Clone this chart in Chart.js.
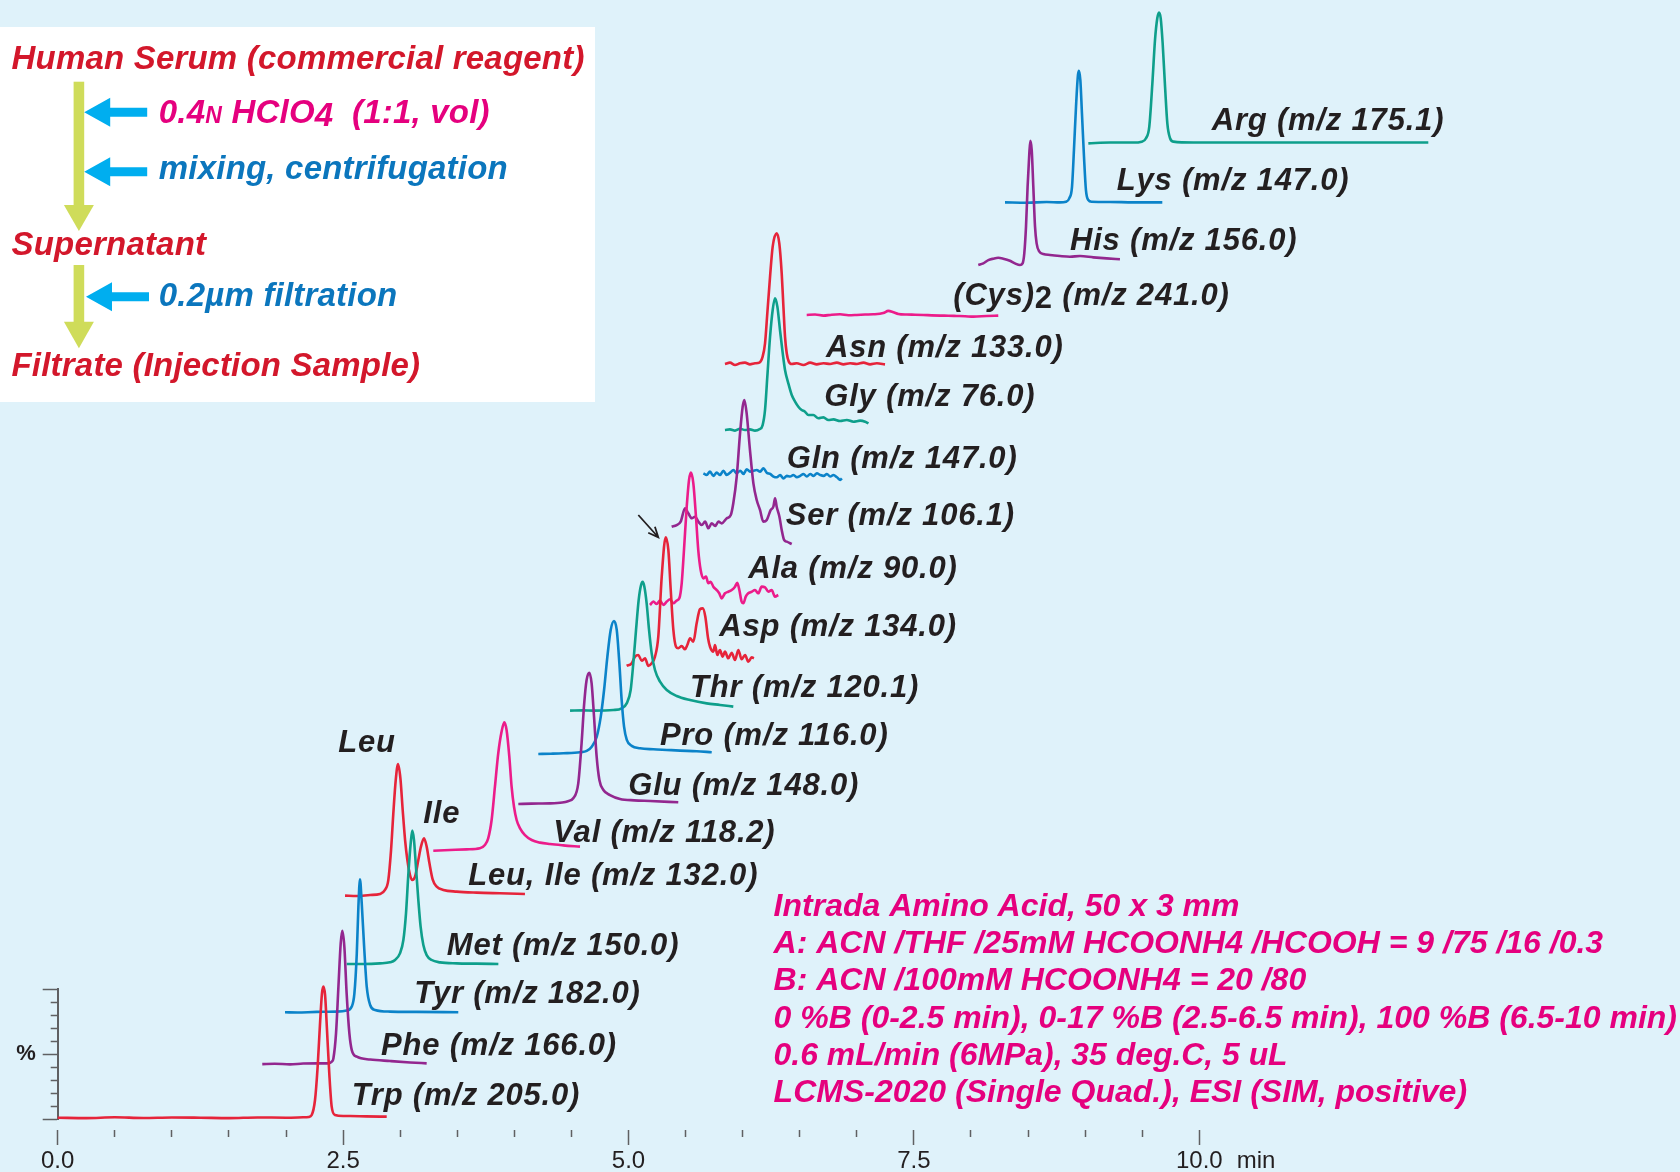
<!DOCTYPE html>
<html lang="en">
<head>
<meta charset="utf-8">
<title>SIM chromatograms of underivatized amino acids in human serum</title>
<script src="https://cdn.jsdelivr.net/npm/chart.js@4.4.1/dist/chart.umd.min.js"></script>
<style>
  html, body { margin: 0; padding: 0; background: #dff2fa; }
  canvas { display: block; }
</style>
</head>
<body>
<canvas id="chrom" width="1680" height="1172"></canvas>
<script>
// ---------- axes ----------
const timeTicks = [0, 0.5, 1, 1.5, 2, 2.5, 3, 3.5, 4, 4.5, 5, 5.5, 6, 6.5, 7, 7.5, 8, 8.5, 9, 9.5, 10];
const timeLabelValues = [0, 2.5, 5, 7.5, 10];
const timeLabels = ['0.0', '2.5', '5.0', '7.5', '10.0'];
const pctTicks = [0, 10, 20, 30, 40, 50, 60, 70, 80, 90, 100];
const pctLongTicks = [0, 50, 100];

// ---------- chromatograms ----------
// each trace: baseline offset (%) and [retention time (min), signal above baseline (%)]
const trpBase = 1.0;
const trp = [[0,0],[0.25,-0.3],[0.5,0.3],[0.75,-0.2],[1.0,0.2],[1.25,0],[1.5,-0.3],[1.75,0.2],[2.0,0],[2.15,0.3],[2.2,0.6],[2.225,2.1],[2.254,13.6],[2.277,39.2],[2.298,72.6],[2.315,95.6],[2.327,100.8],[2.342,94.4],[2.359,67.4],[2.379,34.1],[2.4,8.5],[2.429,2.1],[2.5,1.3],[2.561,1.3],[2.7,1.0],[2.882,0.8]];

const pheBase = 42.5;
const phe = [[1.792,-0.3],[1.9,0],[2.035,-0.5],[2.15,0.2],[2.269,0.3],[2.371,0.3],[2.4,1.5],[2.415,4.1],[2.438,23.3],[2.459,59.2],[2.479,92.6],[2.493,102.3],[2.511,90.0],[2.531,54.1],[2.555,23.3],[2.576,10.5],[2.62,5.4],[2.737,3.3],[2.911,2.1],[3.087,1.0],[3.232,0.3]];

const tyrBase = 82.1;
const tyr = [[1.991,0],[2.1,-0.2],[2.269,0.3],[2.444,0.5],[2.532,1.3],[2.576,4.4],[2.599,14.6],[2.62,45.4],[2.634,81.3],[2.648,102.3],[2.663,84.1],[2.684,50.8],[2.707,19.7],[2.737,5.6],[2.78,1.8],[2.911,0.5],[3.144,0.3],[3.509,0]];

const metBase = 119.2;
const met = [[2.532,0],[2.677,0],[2.823,0.5],[2.91,1.3],[2.955,3.1],[2.998,8.2],[3.028,18.5],[3.051,39.0],[3.072,69.7],[3.092,92.8],[3.106,102.6],[3.121,95.4],[3.138,74.9],[3.159,49.2],[3.179,28.7],[3.203,14.6],[3.232,6.9],[3.276,3.1],[3.349,1.3],[3.495,0.5],[3.67,0.3],[3.86,0]];

const leuIleBase = 171.8;
const leuIle = [[2.517,0],[2.619,-0.3],[2.736,0.5],[2.823,1.3],[2.867,4.4],[2.896,12.0],[2.92,35.1],[2.94,63.3],[2.961,88.9],[2.981,101.3],[3.002,90.3],[3.022,65.9],[3.043,42.8],[3.063,27.4],[3.086,15.9],[3.106,12.0],[3.13,14.6],[3.159,27.4],[3.182,37.7],[3.209,44.1],[3.232,37.7],[3.256,25.1],[3.285,12.3],[3.32,6.9],[3.378,4.4],[3.495,3.1],[3.67,2.3],[3.874,1.8],[4.093,1.3]];

const valBase = 206.4;
const val = [[3.29,0],[3.436,0.5],[3.582,1.0],[3.698,1.8],[3.742,4.4],[3.771,9.5],[3.801,23.6],[3.83,49.2],[3.859,74.9],[3.888,91.5],[3.912,98.7],[3.932,92.8],[3.956,72.3],[3.976,49.2],[3.997,33.8],[4.02,23.6],[4.05,17.2],[4.093,12.0],[4.152,8.2],[4.225,6.2],[4.312,5.1],[4.429,4.1],[4.575,3.1]];

const gluBase = 242.3;
const glu = [[4.035,0],[4.15,0.3],[4.312,0.5],[4.42,1.2],[4.47,2.2],[4.516,4.4],[4.56,15.9],[4.589,46.7],[4.612,77.4],[4.633,95.4],[4.657,101.0],[4.677,92.8],[4.698,67.2],[4.721,36.4],[4.745,18.5],[4.78,10.8],[4.838,6.9],[4.926,3.9],[5.05,2.8],[5.189,2.3],[5.436,1.3]];

const proBase = 280.8;
const pro = [[4.21,0],[4.32,0.2],[4.429,0.5],[4.575,1.3],[4.634,2.3],[4.678,5.6],[4.722,13.3],[4.757,28.7],[4.786,49.2],[4.815,74.9],[4.844,95.4],[4.873,102.3],[4.897,95.4],[4.92,69.7],[4.94,41.5],[4.961,21.0],[4.985,10.8],[5.028,6.2],[5.101,4.4],[5.218,3.6],[5.335,3.1],[5.451,2.6],[5.597,2.1],[5.729,1.3]];

const thrBase = 314.1;
const thr = [[4.488,0],[4.6,0.2],[4.692,0],[4.867,0.5],[4.94,1.8],[4.984,5.6],[5.019,15.9],[5.042,36.4],[5.066,62.1],[5.089,85.1],[5.11,96.7],[5.124,99.2],[5.139,95.4],[5.159,82.6],[5.18,62.1],[5.203,44.1],[5.232,31.3],[5.276,22.3],[5.335,15.9],[5.422,11.3],[5.539,8.2],[5.685,5.6],[5.802,4.4],[5.918,3.1]];

const aspBase = 350.0;
const asp = [[4.984,-1.5],[5.028,0.5],[5.057,5.6],[5.086,6.9],[5.116,2.5],[5.145,4.4],[5.174,-1.5],[5.203,0.5],[5.232,5.6],[5.261,21.0],[5.291,67.2],[5.326,97.5],[5.349,87.7],[5.37,56.9],[5.393,26.2],[5.416,13.3],[5.436,12.1],[5.466,13.8],[5.495,11.3],[5.515,14.6],[5.539,19.8],[5.568,17.2],[5.597,31.3],[5.626,42.1],[5.65,42.8],[5.673,36.4],[5.697,19.8],[5.714,13.3],[5.743,9.5],[5.758,14.6],[5.778,6.9],[5.801,10.8],[5.825,5.6],[5.845,9.5],[5.874,4.4],[5.904,8.7],[5.933,3.1],[5.962,10.8],[5.991,3.6],[6.021,6.9],[6.049,1.8],[6.079,5.1],[6.099,4.4]];

const alaBase = 398.0;
const ala = [[5.188,-2.6],[5.218,0],[5.247,-1.8],[5.276,0.8],[5.305,-2.6],[5.335,0],[5.364,1.8],[5.393,-1.3],[5.422,0.8],[5.445,2.5],[5.466,14.1],[5.486,39.7],[5.51,73.0],[5.53,93.5],[5.547,99.2],[5.568,91.0],[5.591,65.3],[5.611,39.7],[5.632,24.3],[5.655,17.9],[5.679,19.2],[5.699,14.1],[5.72,15.3],[5.743,11.5],[5.773,8.9],[5.795,6.4],[5.816,2.5],[5.845,6.4],[5.874,7.6],[5.904,8.9],[5.933,11.5],[5.953,14.5],[5.971,8.9],[5.991,0],[6.006,-1.3],[6.027,3.8],[6.049,6.4],[6.079,7.6],[6.108,8.9],[6.137,6.4],[6.167,11.5],[6.196,11.0],[6.225,7.6],[6.254,8.9],[6.283,3.8],[6.312,5.1]];

const serBase = 458.0;
const ser = [[5.378,-2.4],[5.422,-1.1],[5.457,1.5],[5.495,11.7],[5.524,7.9],[5.554,4.1],[5.583,5.3],[5.612,1.5],[5.642,-1.1],[5.671,1.5],[5.7,-3.6],[5.729,0.2],[5.759,-1.8],[5.788,1.5],[5.817,0.2],[5.861,4.1],[5.896,6.6],[5.918,15.6],[5.948,36.1],[5.977,69.4],[6.0,89.9],[6.015,95.1],[6.035,84.8],[6.064,56.6],[6.094,31.0],[6.123,18.2],[6.152,10.5],[6.181,1.5],[6.211,2.8],[6.246,10.5],[6.269,13.0],[6.284,19.4],[6.298,13.0],[6.322,5.3],[6.342,-4.9],[6.363,-12.6],[6.386,-13.9],[6.43,-15.7]];

const glnBase = 497.0;
const gln = [[5.656,-0.3],[5.685,-1.6],[5.714,1.0],[5.743,-2.3],[5.773,0.2],[5.802,-1.6],[5.831,1.7],[5.86,-1.6],[5.89,0.2],[5.919,2.2],[5.948,-0.3],[5.978,1.7],[6.007,-0.8],[6.036,2.8],[6.065,1.0],[6.095,1.7],[6.124,2.2],[6.153,1.0],[6.182,3.5],[6.211,0.2],[6.241,-0.8],[6.27,-2.8],[6.299,-3.4],[6.328,-1.6],[6.358,-4.2],[6.387,-2.3],[6.416,-2.8],[6.445,-1.6],[6.475,-3.4],[6.504,-2.3],[6.533,-0.8],[6.562,-2.8],[6.592,-0.8],[6.621,-2.3],[6.65,-0.3],[6.679,-1.6],[6.709,-2.3],[6.738,-0.8],[6.767,-2.8],[6.796,-1.6],[6.826,-3.4],[6.855,-5.4],[6.869,-4.2]];

const glyBase = 530.0;
const gly = [[5.845,0],[5.889,0.5],[5.933,-0.5],[5.977,1.0],[6.02,0],[6.064,0.5],[6.108,-0.5],[6.146,0.5],[6.175,3.8],[6.196,15.4],[6.216,41.0],[6.24,71.8],[6.263,92.3],[6.283,101.3],[6.304,94.9],[6.327,76.9],[6.351,59.0],[6.371,46.2],[6.4,35.9],[6.43,26.9],[6.459,21.8],[6.488,17.9],[6.517,15.4],[6.546,14.1],[6.576,11.5],[6.619,11.5],[6.663,9.0],[6.707,9.7],[6.751,7.7],[6.795,8.2],[6.853,6.9],[6.912,7.7],[6.97,6.4],[7.029,7.2],[7.073,6.4],[7.102,5.1]];

const asnBase = 580.8;
const asn = [[5.845,0],[5.889,1.0],[5.933,-0.8],[5.977,0.5],[6.02,1.0],[6.064,-0.3],[6.108,0.5],[6.146,1.0],[6.175,5.6],[6.196,15.9],[6.216,39.0],[6.24,67.2],[6.263,90.3],[6.298,100.5],[6.321,92.8],[6.342,69.7],[6.357,44.1],[6.371,21.0],[6.386,8.2],[6.404,1.8],[6.43,0],[6.474,0.5],[6.532,-0.8],[6.591,1.0],[6.649,-0.3],[6.708,0.5],[6.766,0],[6.825,1.0],[6.883,-0.3],[6.941,0.5],[7.0,0],[7.058,1.0],[7.116,-0.3],[7.175,0.5],[7.247,-0.3]];

const cys2Base = 618.5;
const cys2 = [[6.561,0],[6.634,0.3],[6.707,-0.5],[6.78,0.2],[6.853,0.5],[6.926,-0.2],[6.999,0],[7.072,0.3],[7.145,0.5],[7.232,1.5],[7.276,3.1],[7.32,2.1],[7.364,0.8],[7.437,0.3],[7.51,0.2],[7.583,0],[7.656,-0.3],[7.729,-0.5],[7.802,-0.6],[7.875,-0.8],[7.948,-1.0],[8.021,-1.3],[8.137,-0.8],[8.239,-0.5]];

const hisBase = 656.9;
const his = [[8.064,0],[8.108,1.3],[8.152,3.8],[8.195,4.9],[8.239,5.6],[8.283,4.9],[8.341,3.3],[8.385,1.3],[8.429,0],[8.452,1.3],[8.467,9.0],[8.482,29.5],[8.496,60.3],[8.511,85.9],[8.52,95.6],[8.532,88.5],[8.546,60.3],[8.561,29.5],[8.575,16.7],[8.599,10.3],[8.634,8.5],[8.692,7.7],[8.78,6.9],[8.867,6.4],[8.955,6.9],[9.072,5.9],[9.188,5.1],[9.305,4.4]];

const lysBase = 705.1;
const lys = [[8.298,0],[8.488,-0.3],[8.663,0.3],[8.78,0],[8.832,0.5],[8.861,3.1],[8.885,12.0],[8.902,40.3],[8.92,73.6],[8.937,97.9],[8.946,101.3],[8.958,94.1],[8.972,68.5],[8.99,35.1],[9.007,9.5],[9.028,1.8],[9.057,0.5],[9.218,0.3],[9.422,0],[9.676,0]];

const argBase = 750.8;
const arg = [[9.028,-0.3],[9.218,0.3],[9.422,0.3],[9.495,1.0],[9.533,3.6],[9.562,12.6],[9.589,46.0],[9.612,79.2],[9.632,95.9],[9.647,100.3],[9.662,95.9],[9.679,76.7],[9.7,43.3],[9.72,15.1],[9.744,3.6],[9.773,1.0],[9.948,0.3],[12.006,0.3]];

// ---------- trace names (left end of text at baseline: [min, %]) ----------
const traceNames = ['Trp (m/z 205.0)', 'Phe (m/z 166.0)', 'Tyr (m/z 182.0)', 'Met (m/z 150.0)',
  'Leu, Ile (m/z 132.0)', 'Val (m/z 118.2)', 'Glu (m/z 148.0)', 'Pro (m/z 116.0)', 'Thr (m/z 120.1)',
  'Asp (m/z 134.0)', 'Ala (m/z 90.0)', 'Ser (m/z 106.1)', 'Gln (m/z 147.0)', 'Gly (m/z 76.0)',
  'Asn (m/z 133.0)', '(Cys)2 (m/z 241.0)', 'His (m/z 156.0)', 'Lys (m/z 147.0)', 'Arg (m/z 175.1)'];
const nameAnchors = [[2.575,10.8],[2.832,49.2],[3.124,89.2],[3.408,126.2],[3.597,180.0],[4.341,213.3],
  [4.998,249.2],[5.276,287.7],[5.539,324.8],[5.795,371.5],[6.049,415.9],[6.377,457.3],[6.386,500.8],
  [6.715,548.1],[6.730,586.4],[7.845,626.2],[8.867,668.5],[9.277,714.6],[10.109,760.8]];
const peakNames = ['Leu', 'Ile'];
const peakNameAnchors = [[2.458,282.1],[3.203,227.5]];
// arrow pointing at the Asp peak
const aspArrow = [[5.086,464.6],[5.261,447.5]];

// ---------- sample preparation and method notes ----------
const prepSteps = ['Human Serum (commercial reagent)', 'Supernatant', 'Filtrate (Injection Sample)'];
const prepAdds = ['mixing, centrifugation', '0.2\u00b5m filtration'];
const methodLines = [
  'Intrada Amino Acid, 50 x 3 mm',
  'A: ACN /THF /25mM HCOONH4 /HCOOH = 9 /75 /16 /0.3',
  'B: ACN /100mM HCOONH4 = 20 /80',
  '0 %B (0-2.5 min), 0-17 %B (2.5-6.5 min), 100 %B (6.5-10 min)',
  '0.6 mL/min (6MPa), 35 deg.C, 5 uL',
  'LCMS-2020 (Single Quad.), ESI (SIM, positive)'
];

// ---------- styling ----------
const FONT = '"Liberation Sans", Arial, Helvetica, sans-serif';
const INK = '#231f20';
const AXIS_GREY = '#5f6062';
const RED = '#e6243a', PURPLE = '#93278f', BLUE = '#0b83c9', TEAL = '#0e9f8b', PINK = '#ec1c8a';
const BOX_RED = '#d3172b', BOX_MAGENTA = '#e5007e', BOX_BLUE = '#0b76bd';
const CYAN_ARROW = '#00aeef', GREEN_ARROW = '#cfdc5a';

const traces = [
  {pts: trp, base: trpBase, color: RED},
  {pts: phe, base: pheBase, color: PURPLE},
  {pts: tyr, base: tyrBase, color: BLUE},
  {pts: met, base: metBase, color: TEAL},
  {pts: leuIle, base: leuIleBase, color: RED},
  {pts: val, base: valBase, color: PINK},
  {pts: glu, base: gluBase, color: PURPLE},
  {pts: pro, base: proBase, color: BLUE},
  {pts: thr, base: thrBase, color: TEAL},
  {pts: asp, base: aspBase, color: RED},
  {pts: ala, base: alaBase, color: PINK},
  {pts: ser, base: serBase, color: PURPLE},
  {pts: gln, base: glnBase, color: BLUE},
  {pts: gly, base: glyBase, color: TEAL},
  {pts: asn, base: asnBase, color: RED},
  {pts: cys2, base: cys2Base, color: PINK},
  {pts: his, base: hisBase, color: PURPLE},
  {pts: lys, base: lysBase, color: BLUE},
  {pts: arg, base: argBase, color: TEAL}
];

const datasets = traces.map((tr, i) => ({
  label: traceNames[i],
  data: tr.pts.map(([t, h]) => ({x: t, y: tr.base + h})),
  borderColor: tr.color,
  borderWidth: 2.6,
  pointRadius: 0,
  cubicInterpolationMode: 'monotone',
  fill: false,
  clip: false,
  xAxisID: 'x',
  yAxisID: 'pct'
}));

// text with an upright subscript digit, e.g. "(Cys)2"
function drawName(ctx, text, px, py) {
  const m = text.match(/^(\(\w+\))(\d)(.*)$/);
  if (!m) { ctx.fillText(text, px, py); return; }
  const italic = ctx.font;
  ctx.fillText(m[1], px, py);
  let w = ctx.measureText(m[1]).width;
  ctx.font = italic.replace('italic ', '');
  ctx.fillText(m[2], px + w, py + 3);
  w += ctx.measureText(m[2]).width;
  ctx.font = italic;
  ctx.fillText(m[3], px + w, py);
}

function cyanArrow(ctx, tipX, y) {
  ctx.beginPath();
  ctx.moveTo(tipX, y);
  ctx.lineTo(tipX + 26, y - 14.5);
  ctx.lineTo(tipX + 26, y - 4.5);
  ctx.lineTo(tipX + 63, y - 4.5);
  ctx.lineTo(tipX + 63, y + 4.5);
  ctx.lineTo(tipX + 26, y + 4.5);
  ctx.lineTo(tipX + 26, y + 14.5);
  ctx.closePath();
  ctx.fill();
}

function greenArrow(ctx, cx, top, shaftEnd, tipY) {
  ctx.fillRect(cx - 5.3, top, 10.6, shaftEnd - top + 0.5);
  ctx.beginPath();
  ctx.moveTo(cx - 15, shaftEnd);
  ctx.lineTo(cx + 15, shaftEnd);
  ctx.lineTo(cx, tipY);
  ctx.closePath();
  ctx.fill();
}

const annotations = {
  id: 'annotations',
  afterDatasetsDraw(chart) {
    const {ctx} = chart;
    const xs = chart.scales.x, ys = chart.scales.pct;
    ctx.save();
    ctx.textAlign = 'left';
    ctx.textBaseline = 'alphabetic';
    ctx.fillStyle = INK;
    ctx.font = `italic bold 31px ${FONT}`;
    ctx.letterSpacing = '0.8px';
    traceNames.forEach((txt, i) => {
      const [t, v] = nameAnchors[i];
      drawName(ctx, txt, xs.getPixelForValue(t), ys.getPixelForValue(v));
    });
    peakNames.forEach((txt, i) => {
      const [t, v] = peakNameAnchors[i];
      ctx.fillText(txt, xs.getPixelForValue(t), ys.getPixelForValue(v));
    });
    ctx.letterSpacing = '0px';

    // arrow marking Asp
    const x0 = xs.getPixelForValue(aspArrow[0][0]), y0 = ys.getPixelForValue(aspArrow[0][1]);
    const x1 = xs.getPixelForValue(aspArrow[1][0]), y1 = ys.getPixelForValue(aspArrow[1][1]);
    const ang = Math.atan2(y1 - y0, x1 - x0);
    ctx.strokeStyle = INK;
    ctx.lineWidth = 1.8;
    ctx.beginPath();
    ctx.moveTo(x0, y0);
    ctx.lineTo(x1, y1);
    ctx.moveTo(x1 - 11 * Math.cos(ang - 0.42), y1 - 11 * Math.sin(ang - 0.42));
    ctx.lineTo(x1, y1);
    ctx.lineTo(x1 - 11 * Math.cos(ang + 0.42), y1 - 11 * Math.sin(ang + 0.42));
    ctx.stroke();
    ctx.restore();
  },
  afterDraw(chart) {
    const {ctx} = chart;
    const xs = chart.scales.x;
    ctx.save();

    // unit of the time axis
    ctx.fillStyle = INK;
    ctx.font = `24px ${FONT}`;
    ctx.textAlign = 'left';
    ctx.textBaseline = 'middle';
    ctx.fillText('min', xs.getPixelForValue(10) + 37.5, xs.top + 26 + 2 + 14.4);

    // method conditions
    ctx.textBaseline = 'alphabetic';
    ctx.fillStyle = BOX_MAGENTA;
    ctx.font = `italic bold 32px ${FONT}`;
    const methodWidths = [468, 832, 534, 904, 514, 694];
    methodLines.forEach((line, i) => {
      ctx.fillText(line, 773.6, 916 + i * 37.2, methodWidths[i]);
    });

    // sample preparation panel
    ctx.fillStyle = '#ffffff';
    ctx.fillRect(0, 27, 595, 375);
    ctx.fillStyle = GREEN_ARROW;
    greenArrow(ctx, 78.9, 81.7, 205, 231);
    greenArrow(ctx, 78.9, 265, 321.7, 348.3);
    ctx.fillStyle = CYAN_ARROW;
    cyanArrow(ctx, 84.2, 112.3);
    cyanArrow(ctx, 84.2, 171.7);
    cyanArrow(ctx, 86, 296.7);

    const big = `italic bold 33px ${FONT}`;
    ctx.font = big;
    ctx.letterSpacing = '0.2px';
    ctx.fillStyle = BOX_RED;
    ctx.fillText(prepSteps[0], 11.5, 69);
    ctx.fillText(prepSteps[1], 11.5, 254.5);
    ctx.fillText(prepSteps[2], 11.5, 376);

    ctx.fillStyle = BOX_BLUE;
    ctx.fillText(prepAdds[0], 158.8, 178.5);
    ctx.fillText(prepAdds[1], 158.8, 305.5);

    // 0.4N HClO4  (1:1, vol)
    ctx.fillStyle = BOX_MAGENTA;
    let x = 158.8;
    const y = 123.3;
    const seg = (text, font, dy) => {
      ctx.font = font;
      ctx.fillText(text, x, y + dy);
      x += ctx.measureText(text).width;
    };
    seg('0.4', big, 0);
    seg('N', `italic bold 23px ${FONT}`, 0);
    seg(' HClO', big, 0);
    seg('4', big, 3);
    seg('  (1:1, vol)', big, 0);
    ctx.restore();
  }
};

new Chart(document.getElementById('chrom'), {
  type: 'line',
  data: {datasets},
  options: {
    responsive: false,
    animation: false,
    devicePixelRatio: 1,
    events: [],
    layout: {padding: {left: 5.7, right: 480.7, top: 0, bottom: 0}},
    plugins: {legend: {display: false}, tooltip: {enabled: false}},
    scales: {
      x: {
        type: 'linear',
        position: 'bottom',
        min: 0,
        max: 10,
        afterBuildTicks: (s) => { s.ticks = timeTicks.map((value) => ({value})); },
        afterFit: (s) => { s.height = 53; s.paddingLeft = 0; s.paddingRight = 0; },
        ticks: {
          autoSkip: false,
          maxRotation: 0,
          minRotation: 0,
          padding: 2,
          color: INK,
          font: {family: FONT, size: 24},
          callback: (v) => {
            const i = timeLabelValues.indexOf(v);
            return i >= 0 ? timeLabels[i] : '';
          }
        },
        grid: {
          drawOnChartArea: false,
          drawTicks: true,
          tickLength: 26,
          tickWidth: 1.5,
          tickColor: AXIS_GREY,
          tickBorderDash: (c) => timeLabelValues.includes(c.tick && c.tick.value) ? [0, 11, 15, 100] : [0, 11, 7, 100]
        },
        border: {display: false}
      },
      pctTop: {
        type: 'linear',
        position: 'left',
        stack: 'intensity',
        stackWeight: 989,
        weight: 2,
        display: false,
        min: 0,
        max: 1
      },
      pct: {
        type: 'linear',
        position: 'left',
        stack: 'intensity',
        stackWeight: 130,
        weight: 1,
        min: 0,
        max: 100,
        afterBuildTicks: (s) => { s.ticks = pctTicks.map((value) => ({value})); },
        afterFit: (s) => { s.width = 52; s.paddingTop = 0; s.paddingBottom = 0; },
        ticks: {
          autoSkip: false,
          padding: 7,
          color: INK,
          font: {family: FONT, size: 22, weight: 'bold'},
          callback: (v) => (v === 50 ? '%' : '')
        },
        grid: {
          drawOnChartArea: false,
          drawTicks: true,
          tickLength: 15,
          tickWidth: 1.5,
          tickColor: AXIS_GREY,
          tickBorderDash: (c) => pctLongTicks.includes(c.tick && c.tick.value) ? [] : [0, 8, 7, 100]
        },
        border: {display: true, color: AXIS_GREY, width: 2}
      }
    }
  },
  plugins: [annotations]
});
</script>
</body>
</html>
